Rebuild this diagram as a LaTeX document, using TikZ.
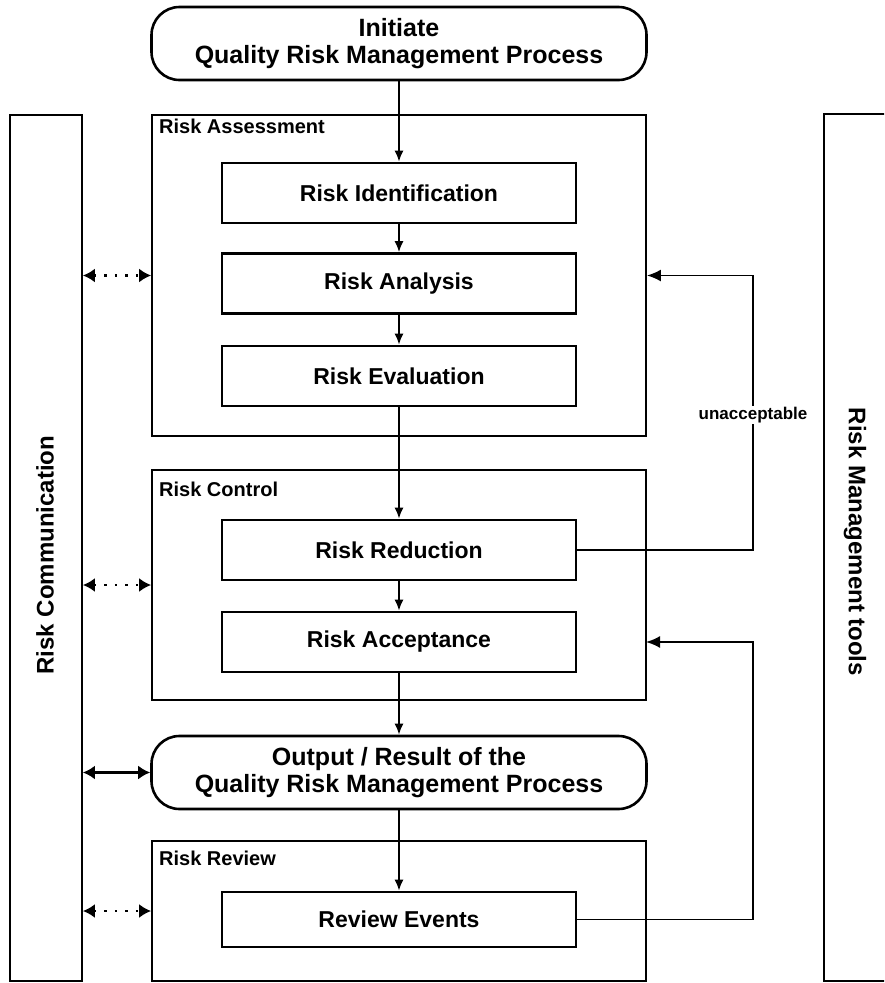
\documentclass[tikz,border=0pt]{standalone}
\usepackage{fontspec}
\setmainfont{Liberation Sans}
\usetikzlibrary{arrows.meta}
\begin{document}
\begin{tikzpicture}[x=1pt,y=-1pt,
  container/.style={draw, line width=1.8pt, inner sep=0pt},
  stepbox/.style={draw, line width=2.6pt, minimum width=354pt, minimum height=60pt, inner sep=0pt,
     font=\fontsize{23}{26}\selectfont\bfseries},
  pill/.style={draw, line width=2.6pt, rounded corners=28pt, minimum width=495pt, inner sep=0pt, align=center,
     font=\fontsize{25}{27}\selectfont\bfseries},
  title/.style={anchor=north west, inner sep=0pt, font=\fontsize{20}{23}\selectfont\bfseries},
  side/.style={inner sep=0pt, font=\fontsize{24}{27}\selectfont\bfseries},
  flow/.style={line width=1.8pt, -{Latex[length=11pt,width=9pt]}},
  fb/.style={line width=1.8pt, -{Latex[length=14pt,width=12pt]}},
  comdot/.style={line width=2.2pt, dash pattern=on 2.5pt off 8pt, {Latex[length=12pt,width=14pt]}-{Latex[length=12pt,width=14pt]}},
  comsolid/.style={line width=2.2pt, {Latex[length=12pt,width=14pt]}-{Latex[length=12pt,width=14pt]}}
]
\useasboundingbox (0,0) rectangle (884,983);
\clip (0,0) rectangle (884,983);
\fill[white] (0,0) rectangle (884,983);

% side columns
\node[container, minimum width=72pt, minimum height=866pt] (comm) at (46,548) {};
\node[container, minimum width=80pt, minimum height=867pt] (tools) at (864,547.5) {};
\node[side, rotate=90] (commtxt) at (45,555) {Risk Communication};
\node[side, rotate=-90] (toolstxt) at (855,542) {Risk Management tools};

% initiate
\node[pill, minimum height=73pt] (init) at (399,43.5) {Initiate\\Quality Risk Management Process};

% risk assessment
\node[container, minimum width=494pt, minimum height=321pt] (assess) at (399,275.5) {};
\node[title] (assesst) at (159,119) {Risk Assessment};
\node[stepbox] (ident) at (399,193) {Risk Identification};
\node[stepbox] (anal) at (399,283.5) {Risk Analysis};
\node[stepbox] (evalu) at (399,376) {Risk Evaluation};

% risk control
\node[container, minimum width=494pt, minimum height=230pt] (control) at (399,585) {};
\node[title] (controlt) at (159,482) {Risk Control};
\node[stepbox] (reduc) at (399,550) {Risk Reduction};
\node[stepbox] (accept) at (399,642) {Risk Acceptance};

% output
\node[pill, minimum height=73pt] (output) at (399,772.5) {Output / Result of the\\Quality Risk Management Process};

% risk review
\node[container, minimum width=494pt, minimum height=140pt] (review) at (399,911) {};
\node[title] (reviewt) at (159,851) {Risk Review};
\node[stepbox, minimum height=55pt] (events) at (399,919.5) {Review Events};

% main flow
\draw[flow] (init.south) -- (ident.north);
\draw[flow] (ident.south) -- (anal.north);
\draw[flow] (anal.south) -- (evalu.north);
\draw[flow] (evalu.south) -- (reduc.north);
\draw[flow] (reduc.south) -- (accept.north);
\draw[flow] (accept.south) -- (output.north);
\draw[flow] (output.south) -- (events.north);

% feedback loops
\coordinate (fb1) at (753,550);
\coordinate (fb1top) at (753,275.5);
\draw[fb] (reduc.east) -- (fb1) -- (fb1top) -- (assess.east);
\node[inner sep=1.5pt, fill=white, font=\fontsize{17}{19}\selectfont\bfseries] (unacc) at (753,415) {unacceptable};

\coordinate (fb2) at (753,919.5);
\coordinate (fb2top) at (753,642);
\coordinate (ctrlin) at (646,642);
\draw[fb] (events.east) -- (fb2) -- (fb2top) -- (ctrlin);

% communication arrows
\draw[comdot] (comm.east |- assess.west) -- (assess.west);
\draw[comdot] (comm.east |- control.west) -- (control.west);
\draw[comsolid] (comm.east |- output.west) -- (output.west);
\draw[comdot] (comm.east |- review.west) -- (review.west);
\end{tikzpicture}
\end{document}
